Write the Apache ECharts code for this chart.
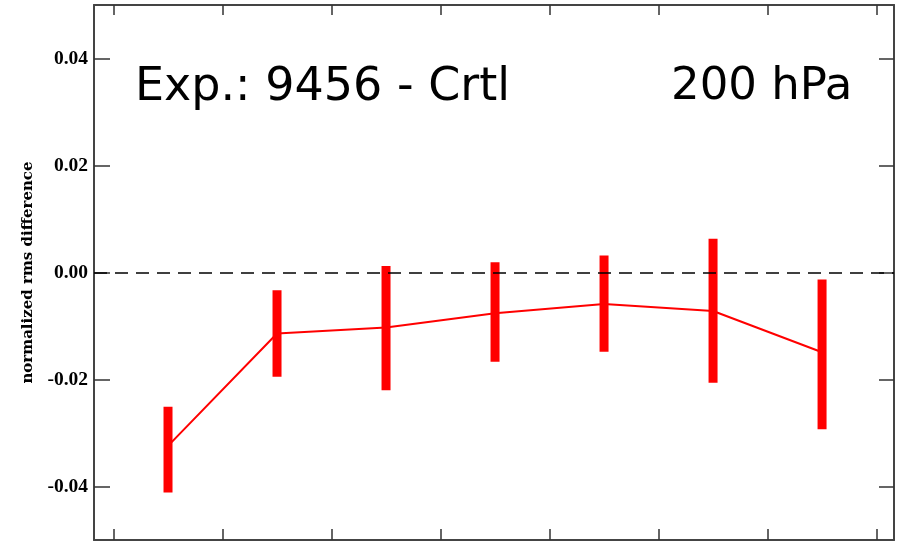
<!DOCTYPE html>
<html>
<head>
<meta charset="utf-8">
<script src="https://cdn.jsdelivr.net/npm/echarts@6/dist/echarts.min.js"></script>
<style>
  html, body { margin: 0; padding: 0; background: #fff; }
  #chart { width: 904px; height: 542px; }
</style>
</head>
<body>
<div id="chart"></div>
<script>
  // model levels along the x axis
  const levels = [1, 2, 3, 4, 5, 6, 7]
  // normalized rms difference (Exp. 9456 - Crtl), 200 hPa
  const meanDiff = [-0.0324, -0.0114, -0.0103, -0.0076, -0.0059, -0.0072, -0.0149]
  const upper = [-0.0251, -0.0033, 0.0012, 0.0019, 0.0032, 0.0063, -0.0013]
  const lower = [-0.0411, -0.0195, -0.0220, -0.0167, -0.0148, -0.0206, -0.0293]
  // tick positions
  const xTicks = [0.5, 1.5, 2.5, 3.5, 4.5, 5.5, 6.5, 7.5]
  const yTicks = [-0.04, -0.02, 0, 0.02, 0.04]

  const frame = { color: '#444', width: 2 }
  const tickStyle = { color: '#333', width: 1.5 }
  const labelFont = { fontFamily: 'Liberation Serif', fontWeight: 'bold', fontSize: 19.5, color: '#000' }

  const chart = echarts.init(document.getElementById('chart'))

  const xBase = {
    type: 'value',
    min: 0.321,
    max: 7.66,
    axisLine: { show: true, onZero: false, lineStyle: frame },
    axisLabel: { show: false },
    splitLine: { show: false }
  }
  const yBase = {
    type: 'value',
    min: -0.05,
    max: 0.05,
    axisLine: { show: true, onZero: false, lineStyle: frame },
    splitLine: { show: false }
  }

  chart.setOption({
    animation: false,
    backgroundColor: '#fff',
    grid: { left: 94, right: 10, top: 5, bottom: 2, containLabel: false },
    xAxis: [
      Object.assign({}, xBase, {
        position: 'bottom',
        axisTick: { inside: true, length: 11, customValues: xTicks, lineStyle: tickStyle }
      }),
      Object.assign({}, xBase, {
        position: 'top',
        axisTick: { inside: true, length: 10, customValues: xTicks, lineStyle: tickStyle }
      })
    ],
    yAxis: [
      Object.assign({}, yBase, {
        position: 'left',
        name: 'normalized rms difference',
        nameLocation: 'middle',
        nameGap: 58,
        nameTextStyle: { fontFamily: 'DejaVu Serif', fontWeight: 'bold', fontSize: 15, color: '#000' },
        axisTick: { inside: true, length: 16, customValues: yTicks, lineStyle: tickStyle },
        axisLabel: Object.assign({
          customValues: yTicks,
          margin: 6,
          formatter: v => v.toFixed(2)
        }, labelFont)
      }),
      Object.assign({}, yBase, {
        position: 'right',
        axisTick: { inside: true, length: 15, customValues: yTicks, lineStyle: tickStyle },
        axisLabel: { show: false }
      })
    ],
    graphic: [
      {
        type: 'text',
        left: 135,
        top: 65,
        style: { text: 'Exp.: 9456 - Crtl', fontFamily: 'DejaVu Sans', fontSize: 46, fill: '#000' }
      },
      {
        type: 'text',
        left: 671,
        top: 65,
        style: { text: '200 hPa', fontFamily: 'DejaVu Sans', fontSize: 45, fill: '#000' }
      }
    ],
    series: [
      {
        name: 'range',
        type: 'custom',
        data: levels.map((x, i) => [x, upper[i], lower[i]]),
        renderItem(params, api) {
          const x = api.value(0)
          const hi = api.coord([x, api.value(1)])
          const lo = api.coord([x, api.value(2)])
          return {
            type: 'rect',
            shape: { x: hi[0] - 4.5, y: hi[1], width: 9, height: lo[1] - hi[1] },
            style: { fill: '#ff0000' }
          }
        },
        z: 3
      },
      {
        name: 'mean',
        type: 'line',
        data: levels.map((x, i) => [x, meanDiff[i]]),
        symbol: 'none',
        lineStyle: { color: '#ff0000', width: 2 },
        markLine: {
          silent: true,
          symbol: 'none',
          label: { show: false },
          lineStyle: { color: '#000', width: 1.5, type: [13, 8] },
          data: [{ yAxis: 0 }]
        },
        z: 4
      }
    ]
  })
</script>
</body>
</html>
